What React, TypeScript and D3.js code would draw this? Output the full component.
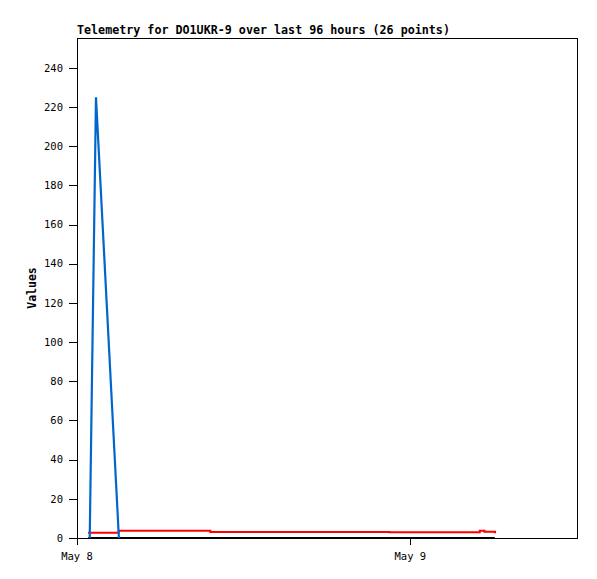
import React from 'react';
import * as d3 from 'd3';

const TITLE = 'Telemetry for DO1UKR-9 over last 96 hours (26 points)';

// x domain: May 8 00:00 to May 9 12:00 (UTC)
const X_START = '2024-05-08T00:00:00Z';
const X_END = '2024-05-09T12:00:00Z';

const xTickDates = ['2024-05-08T00:00:00Z', '2024-05-09T00:00:00Z'];
const xTickLabels = ['May 8', 'May 9'];
const yTicks = [0, 20, 40, 60, 80, 100, 120, 140, 160, 180, 200, 220, 240];

// series: [time, value]
const blueSeries: [string, number][] = [
  ['2024-05-08T00:55:00Z', 0],
  ['2024-05-08T01:22:00Z', 225],
  ['2024-05-08T03:01:00Z', 0],
];

const redSeries: [string, number][] = [
  ['2024-05-08T00:48:00Z', 2.7],
  ['2024-05-08T03:00:00Z', 3.7],
  ['2024-05-08T09:36:00Z', 3.1],
  ['2024-05-08T22:30:00Z', 2.9],
  ['2024-05-09T05:00:00Z', 3.7],
  ['2024-05-09T05:20:00Z', 3.2],
  ['2024-05-09T06:05:00Z', 3.2],
  ['2024-05-09T06:06:00Z', 2.4],
];

const blackSeries: [string, number][] = [
  ['2024-05-08T00:48:00Z', 0],
  ['2024-05-09T06:05:00Z', 0],
];

const W = 597;
const H = 579;
const left = 77;
const right = 577;
const top = 38;
const bottom = 538;

const mono = '"DejaVu Sans Mono", "Liberation Mono", monospace';

const App: React.FC = () => {
  const x = d3
    .scaleUtc()
    .domain([new Date(X_START), new Date(X_END)])
    .range([left, right]);
  const y = d3.scaleLinear().domain([0, 255.3]).range([bottom, top]);

  const linear = d3
    .line<[string, number]>()
    .x((d) => x(new Date(d[0])))
    .y((d) => y(d[1]));
  const stepped = d3
    .line<[string, number]>()
    .x((d) => x(new Date(d[0])))
    .y((d) => y(d[1]))
    .curve(d3.curveStepAfter);

  return (
    <svg
      width={W}
      height={H}
      style={{ position: 'absolute', left: 0, top: 0, background: '#fff' }}
      fontFamily={mono}
    >
      {/* frame */}
      <rect
        x={left + 0.5}
        y={top + 0.5}
        width={right - left}
        height={bottom - top}
        fill="none"
        stroke="#000"
        strokeWidth={1}
        shapeRendering="crispEdges"
      />

      {/* title */}
      <text x={left} y={34} fontSize={11.7} fontWeight="bold" fill="#000">
        {TITLE}
      </text>

      {/* y axis label */}
      <text
        transform={`translate(36, ${(top + bottom) / 2}) rotate(-90)`}
        textAnchor="middle"
        fontSize={11.5}
        fontWeight="bold"
        fill="#000"
      >
        Values
      </text>

      {/* y ticks */}
      {yTicks.map((t) => (
        <g key={t}>
          <line x1={69} x2={left} y1={y(t) + 0.5} y2={y(t) + 0.5} stroke="#000" shapeRendering="crispEdges" />
          <text x={63} y={y(t)} dy="0.35em" textAnchor="end" fontSize={10.5} fill="#000">
            {t}
          </text>
        </g>
      ))}

      {/* x ticks */}
      {xTickDates.map((d, i) => (
        <g key={d}>
          <line
            x1={x(new Date(d)) + 0.5}
            x2={x(new Date(d)) + 0.5}
            y1={bottom}
            y2={545}
            stroke="#000"
            shapeRendering="crispEdges"
          />
          <text x={x(new Date(d))} y={560} textAnchor="middle" fontSize={10.5} fill="#000">
            {xTickLabels[i]}
          </text>
        </g>
      ))}

      {/* series */}
      <path d={stepped(blackSeries) ?? ''} fill="none" stroke="#000" strokeWidth={2} />
      <path d={stepped(redSeries) ?? ''} fill="none" stroke="#ff0000" strokeWidth={2} />
      <path d={linear(blueSeries) ?? ''} fill="none" stroke="#0066cc" strokeWidth={2.2} />
    </svg>
  );
};

export default App;
